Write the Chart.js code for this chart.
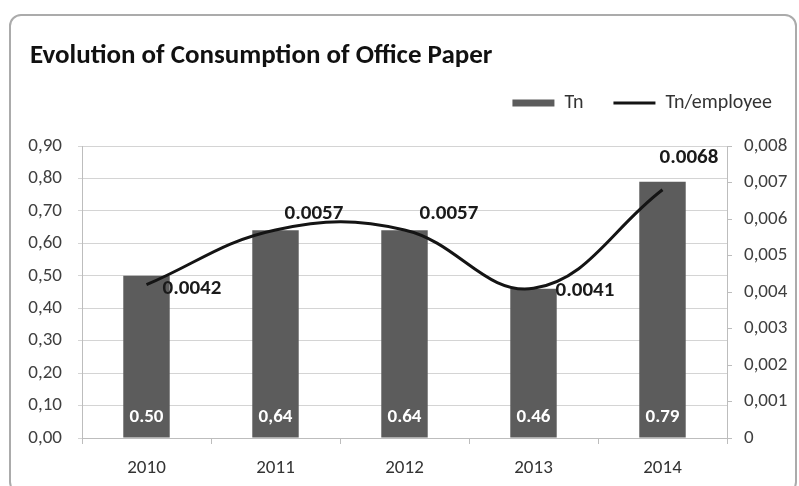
<!DOCTYPE html>
<html>
<head>
<meta charset="utf-8">
<script src="https://cdn.jsdelivr.net/npm/chart.js@4.4.1/dist/chart.umd.min.js"></script>
<style>
  html, body { margin: 0; padding: 0; background: #fff; }
  #frame {
    position: absolute; left: 9px; top: 14px; width: 788px; height: 480px;
    border: 2px solid #ababab; border-radius: 12px; box-sizing: border-box;
  }
  #wrap { position: absolute; left: 0; top: 0; width: 799px; height: 486px; }
</style>
</head>
<body>
<div id="frame"></div>
<div id="wrap"><canvas id="chart"></canvas></div>
<script>
const years = ['2010', '2011', '2012', '2013', '2014'];
const tonnes = [0.50, 0.64, 0.64, 0.46, 0.79];
const tonnesPerEmployee = [0.0042, 0.0057, 0.0057, 0.0041, 0.0068];
const tonnesSeparators = ['.', ',', '.', '.', '.'];
const chartTitle = 'Evolution of Consumption of Office Paper';

const FONT = "Carlito, Lato, 'Open Sans', sans-serif";

// value labels: white inside the bars, bold black next to the line
const valueLabels = {
  id: 'valueLabels',
  afterDatasetsDraw(chart, args, opts) {
    const ctx = chart.ctx;
    ctx.save();
    const bars = chart.getDatasetMeta(0).data;
    ctx.font = 'bold 19px ' + FONT;
    ctx.fillStyle = '#ffffff';
    ctx.textAlign = 'center';
    ctx.textBaseline = 'middle';
    bars.forEach((bar, i) => {
      const txt = tonnes[i].toFixed(2).replace('.', tonnesSeparators[i]);
      ctx.fillText(txt, bar.x, bar.base - 20);
    });
    const pts = chart.getDatasetMeta(1).data;
    ctx.font = 'bold 21px ' + FONT;
    ctx.fillStyle = '#1a1a1a';
    ctx.textAlign = 'left';
    pts.forEach((pt, i) => {
      const [dx, dy] = opts.lineOffsets[i];
      ctx.fillText(tonnesPerEmployee[i].toFixed(4), pt.x + dx, pt.y + dy);
    });
    ctx.restore();
  }
};

// title sits further right than the axis labels, so it is drawn here
const titleText = {
  id: 'titleText',
  afterDraw(chart, args, opts) {
    const ctx = chart.ctx;
    ctx.save();
    ctx.font = 'bold 27px ' + FONT;
    ctx.fillStyle = '#111';
    ctx.textAlign = 'left';
    ctx.textBaseline = 'middle';
    ctx.fillText(opts.text, opts.x, opts.y);
    ctx.restore();
  }
};

// extra room under the legend row, and a small nudge of the legend itself
const legendTweak = {
  id: 'legendTweak',
  afterInit(chart, args, opts) {
    const legend = chart.legend;
    const fit = legend.fit;
    const draw = legend.draw;
    legend.fit = function () {
      fit.call(this);
      this.height += opts.gap;
    };
    legend.draw = function () {
      const ctx = this.ctx;
      ctx.save();
      ctx.translate(opts.shift[0], opts.shift[1]);
      draw.call(this);
      ctx.restore();
    };
  }
};

new Chart(document.getElementById('chart'), {
  data: {
    labels: years,
    datasets: [
      {
        type: 'bar',
        label: 'Tn',
        data: tonnes,
        backgroundColor: '#5c5c5c',
        categoryPercentage: 0.72,
        barPercentage: 0.5,
        yAxisID: 'y',
        order: 2,
      },
      {
        type: 'line',
        label: 'Tn/employee',
        data: tonnesPerEmployee,
        borderColor: '#141414',
        backgroundColor: '#141414',
        borderWidth: 3,
        tension: 0.4,
        pointRadius: 0,
        yAxisID: 'y1',
        order: 1,
      },
    ],
  },
  options: {
    responsive: true,
    maintainAspectRatio: false,
    animation: false,
    layout: { padding: { top: 71, left: 10, right: 8, bottom: 4 } },
    scales: {
      x: {
        offset: true,
        grid: { display: true, offset: true, drawOnChartArea: false, drawTicks: true, tickLength: 6, color: '#bdbdbd' },
        border: { color: '#bdbdbd' },
        ticks: { color: '#333', font: { family: FONT, size: 19 }, padding: 13 },
        afterFit: (s) => { s.height = 44; },
      },
      y: {
        position: 'left',
        min: 0,
        max: 0.9,
        ticks: {
          stepSize: 0.1,
          color: '#404040',
          font: { family: FONT, size: 19 },
          padding: 16,
          callback: (v) => v.toFixed(2).replace('.', ','),
        },
        grid: { color: '#d4d4d4', tickLength: 4 },
        border: { color: '#bdbdbd' },
        afterFit: (s) => { s.width = 72; },
      },
      y1: {
        position: 'right',
        min: 0,
        max: 0.008,
        ticks: {
          stepSize: 0.001,
          color: '#404040',
          font: { family: FONT, size: 19 },
          padding: 12,
          callback: (v) => (v === 0 ? '0' : v.toFixed(3).replace('.', ',')),
        },
        grid: { drawOnChartArea: false, tickLength: 5, color: '#bdbdbd' },
        border: { color: '#bdbdbd' },
        afterFit: (s) => { s.width = 64; },
      },
    },
    plugins: {
      title: { display: false },
      titleText: { text: chartTitle, x: 30, y: 56 },
      legend: {
        display: true,
        position: 'top',
        align: 'end',
        labels: {
          usePointStyle: true,
          pointStyleWidth: 42,
          boxWidth: 42,
          boxHeight: 7,
          color: '#333',
          font: { family: FONT, size: 20 },
          padding: 30,
          generateLabels: (chart) => chart.data.datasets.map((ds, i) => ({
            text: ds.label,
            datasetIndex: i,
            fillStyle: ds.backgroundColor,
            strokeStyle: ds.borderColor || ds.backgroundColor,
            lineWidth: ds.type === 'line' ? 3 : 0,
            pointStyle: ds.type === 'line' ? 'line' : 'rect',
            fontColor: '#333',
          })),
        },
      },
      legendTweak: { gap: 15, shift: [11, -8] },
      tooltip: { enabled: false },
      valueLabels: {
        lineOffsets: [[16, 4], [9, -16], [15, -16], [22, 2], [-3, -32]],
      },
    },
  },
  plugins: [valueLabels, titleText, legendTweak],
});
</script>
</body>
</html>
